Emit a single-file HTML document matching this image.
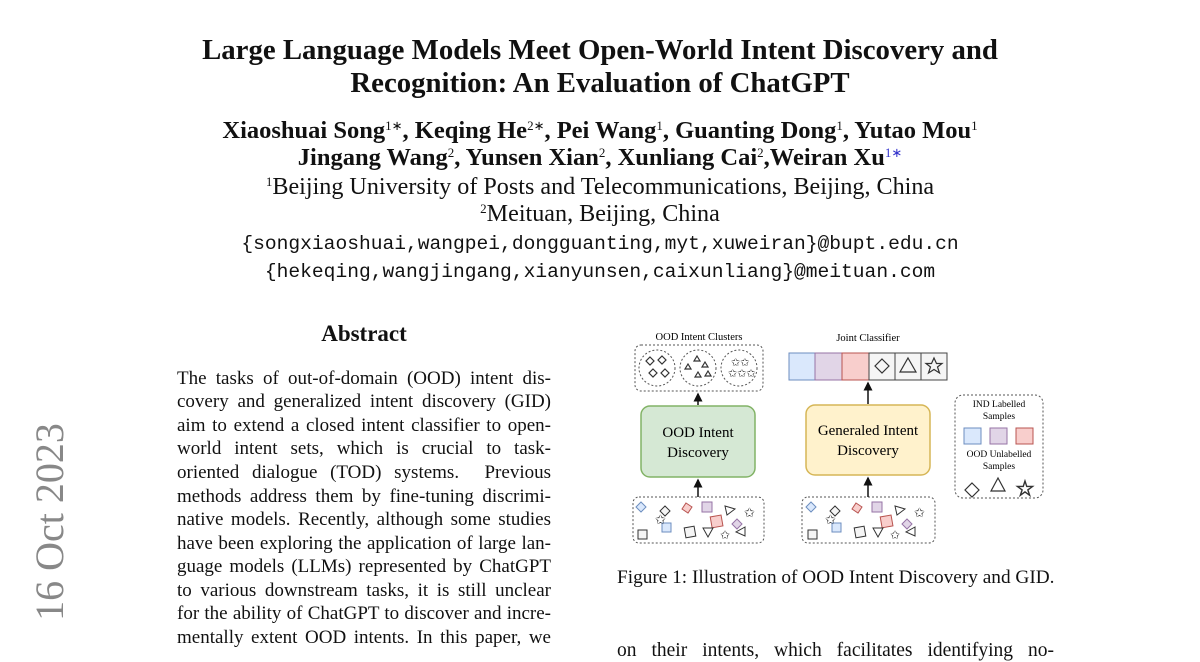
<!DOCTYPE html>
<html><head><meta charset="utf-8"><style>
body{margin:0;width:1200px;height:648px;overflow:hidden;background:#fff;position:relative;font-family:"Liberation Serif",serif;color:#111}
.c{position:absolute;left:0;width:1200px;text-align:center;white-space:nowrap}
.t{font-size:28.8px;font-weight:bold;line-height:32px}
.a{font-size:24.5px;font-weight:bold;line-height:26px}
.f{font-size:24px;line-height:26px;transform:scaleX(1.005)}
.m{font-family:"Liberation Mono",monospace;font-size:19.6px;line-height:24px}
sup{font-size:13px;font-weight:normal;vertical-align:8px;line-height:0}
.l{position:absolute;left:177px;width:374px;font-size:19px;line-height:20px;text-align:justify;text-align-last:justify;white-space:nowrap}
</style></head><body>
<div class="c t" style="top:34px">Large Language Models Meet Open-World Intent Discovery and</div>
<div class="c t" style="top:67px">Recognition: An Evaluation of ChatGPT</div>
<div class="c a" style="top:118px">Xiaoshuai Song<sup>1∗</sup>, Keqing He<sup>2∗</sup>, Pei Wang<sup>1</sup>, Guanting Dong<sup>1</sup>, Yutao Mou<sup>1</sup></div>
<div class="c a" style="top:145px">Jingang Wang<sup>2</sup>, Yunsen Xian<sup>2</sup>, Xunliang Cai<sup>2</sup>,Weiran Xu<sup style="color:#33c">1∗</sup></div>
<div class="c f" style="top:174px"><sup>1</sup>Beijing University of Posts and Telecommunications, Beijing, China</div>
<div class="c f" style="top:201px"><sup>2</sup>Meituan, Beijing, China</div>
<div class="c m" style="top:232px">{songxiaoshuai,wangpei,dongguanting,myt,xuweiran}@bupt.edu.cn</div>
<div class="c m" style="top:260px">{hekeqing,wangjingang,xianyunsen,caixunliang}@meituan.com</div>
<div style="position:absolute;left:177px;width:374px;top:321px;text-align:center;font-size:23px;font-weight:bold">Abstract</div>
<div class="l" style="top:369px">The tasks of out-of-domain (OOD) intent dis-</div>
<div class="l" style="top:392px">covery and generalized intent discovery (GID)</div>
<div class="l" style="top:416px">aim to extend a closed intent classifier to open-</div>
<div class="l" style="top:439px">world intent sets, which is crucial to task-</div>
<div class="l" style="top:463px">oriented dialogue (TOD) systems.&nbsp; Previous</div>
<div class="l" style="top:487px">methods address them by fine-tuning discrimi-</div>
<div class="l" style="top:510px">native models. Recently, although some studies</div>
<div class="l" style="top:534px">have been exploring the application of large lan-</div>
<div class="l" style="top:557px">guage models (LLMs) represented by ChatGPT</div>
<div class="l" style="top:581px">to various downstream tasks, it is still unclear</div>
<div class="l" style="top:604px">for the ability of ChatGPT to discover and incre-</div>
<div class="l" style="top:628px">mentally extent OOD intents. In this paper, we</div>
<div style="position:absolute;left:-50px;top:502px;width:200px;text-align:center;transform:rotate(-90deg);font-size:40px;color:#888;line-height:40px">16 Oct 2023</div>
<div style="position:absolute;left:617px;top:567px;font-size:19.3px;white-space:nowrap">Figure 1: Illustration of OOD Intent Discovery and GID.</div>
<div style="position:absolute;left:617px;top:640px;width:437px;font-size:19.5px;white-space:nowrap;text-align:justify;text-align-last:justify">on their intents, which facilitates identifying no-</div>
<svg style="position:absolute;left:0;top:0" width="1200" height="648" font-family="Liberation Serif,serif">
<defs><marker id="ar" markerWidth="6" markerHeight="6" refX="5" refY="3" orient="auto"><path d="M0,0L6,3L0,6z" fill="#111"/></marker></defs>
<g fill="none" stroke="#555" stroke-dasharray="2,2">
<rect x="635" y="345" width="128" height="46" rx="6"/>
<rect x="633" y="497" width="131" height="46" rx="6"/>
<rect x="802" y="497" width="133" height="46" rx="6"/>
<rect x="955" y="395" width="88" height="103" rx="8"/>
<circle cx="657" cy="368" r="18"/><circle cx="698" cy="368" r="18"/><circle cx="739" cy="368" r="18"/>
</g>
<text x="699" y="340" font-size="10.5" text-anchor="middle">OOD Intent Clusters</text>
<text x="868" y="341" font-size="10.5" text-anchor="middle">Joint Classifier</text>
<rect x="641" y="406" width="114" height="71" rx="9" fill="#d5e8d4" stroke="#82b366" stroke-width="1.5"/>
<text x="698" y="437" font-size="15" text-anchor="middle">OOD Intent</text>
<text x="698" y="457" font-size="15" text-anchor="middle">Discovery</text>
<rect x="806" y="405" width="124" height="70" rx="9" fill="#fff2cc" stroke="#d6b656" stroke-width="1.5"/>
<text x="868" y="435" font-size="15" text-anchor="middle">Generaled Intent</text>
<text x="868" y="455" font-size="15" text-anchor="middle">Discovery</text>
<g stroke="#111" stroke-width="1.5" marker-end="url(#ar)">
<line x1="698" y1="405" x2="698" y2="394"/><line x1="698" y1="497" x2="698" y2="480"/>
<line x1="868" y1="404" x2="868" y2="383"/><line x1="868" y1="497" x2="868" y2="478"/></g>
<rect x="789" y="353" width="26" height="27" fill="#dae8fc" stroke="#6c8ebf"/>
<rect x="815" y="353" width="27" height="27" fill="#e1d5e7" stroke="#9673a6"/>
<rect x="842" y="353" width="27" height="27" fill="#f8cecc" stroke="#b85450"/>
<g fill="#f5f5f5" stroke="#444"><rect x="869" y="353" width="26" height="27"/><rect x="895" y="353" width="26" height="27"/><rect x="921" y="353" width="26" height="27"/></g>
<g fill="none" stroke="#333" stroke-width="1.2">
<path d="M882,359l7,7l-7,7l-7,-7z"/><path d="M908,358l8,14h-16z"/>
<path d="M934,358l2.5,5.5h5.5l-4.5,3.5l2,6l-5.5,-3.5l-5.5,3.5l2,-6l-4.5,-3.5h5.5z"/>
<path d="M650,357l4,4l-4,4l-4,-4zM662,356l4,4l-4,4l-4,-4zM653,369l4,4l-4,4l-4,-4zM665,369l4,4l-4,4l-4,-4z"/>
<path d="M697,356l3,5h-6zM688,364l3,5h-6zM705,362l3,5h-6zM698,372l3,5h-6zM708,371l3,5h-6z"/>
<text x="731" y="366" font-size="11" fill="#333" stroke="none">✩✩</text>
<text x="728" y="377" font-size="11" fill="#333" stroke="none">✩✩✩</text>
<path d="M972,483l7,7l-7,7l-7,-7zM998,478l7,13h-14z"/>
<text x="1025" y="496" font-size="22" text-anchor="middle" fill="none" stroke="#333" stroke-width="0.8">☆</text>
</g>
<text x="999" y="407" font-size="9.5" text-anchor="middle">IND Labelled</text>
<text x="999" y="419" font-size="9.5" text-anchor="middle">Samples</text>
<rect x="964" y="428" width="17" height="16" fill="#dae8fc" stroke="#6c8ebf"/>
<rect x="990" y="428" width="17" height="16" fill="#e1d5e7" stroke="#9673a6"/>
<rect x="1016" y="428" width="17" height="16" fill="#f8cecc" stroke="#b85450"/>
<text x="999" y="457" font-size="9.5" text-anchor="middle">OOD Unlabelled</text>
<text x="999" y="469" font-size="9.5" text-anchor="middle">Samples</text>
<g id="s" stroke-width="1">
<path d="M641,502l5,5l-5,5l-5,-5z" fill="#dae8fc" stroke="#6c8ebf"/>
<path d="M665,506l5,5l-5,5l-5,-5z" fill="#f5f5f5" stroke="#333"/>
<path d="M686,503l6,4l-4,6l-6,-4z" fill="#f8cecc" stroke="#b85450"/>
<rect x="702" y="502" width="10" height="10" fill="#e1d5e7" stroke="#9673a6"/>
<path d="M725,506l10,3l-8,6z" fill="none" stroke="#333"/>
<rect x="711" y="516" width="11" height="11" fill="#f8cecc" stroke="#b85450" transform="rotate(-10 716 521)"/>
<path d="M737,519l5,5l-5,5l-5,-5z" fill="#e1d5e7" stroke="#9673a6"/>
<rect x="662" y="523" width="9" height="9" fill="#dae8fc" stroke="#6c8ebf"/>
<rect x="638" y="530" width="9" height="9" fill="#f5f5f5" stroke="#333"/>
<rect x="685" y="527" width="10" height="10" fill="#f5f5f5" stroke="#333" transform="rotate(-10 690 532)"/>
<path d="M703,528h10l-5,9z" fill="none" stroke="#333"/>
<path d="M745,527l-9,5l9,4z" fill="none" stroke="#333"/>
<text x="655" y="524" font-size="13" fill="#333">✩</text><text x="744" y="517" font-size="13" fill="#333">✩</text><text x="720" y="539" font-size="12" fill="#333">✩</text>
</g>
<use href="#s" x="170"/>
</svg>
</body></html>
